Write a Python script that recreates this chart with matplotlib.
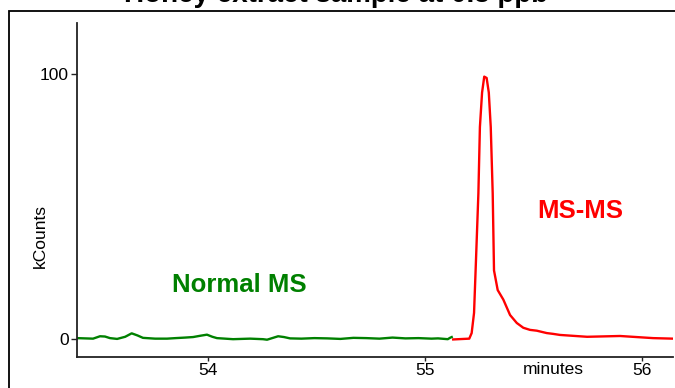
import matplotlib
matplotlib.use("Agg")
import matplotlib.pyplot as plt
from matplotlib.patches import Rectangle
import matplotlib.transforms as mtransforms

plt.rcParams['font.family'] = ['Liberation Sans', 'DejaVu Sans']

title_text = "Honey extract sample at 0.3 ppb"
x_ticks = [54, 55, 56]
x_tick_labels = ["54", "55", "56"]
y_ticks = [0, 100]
y_tick_labels = ["0", "100"]

# Normal MS trace (minutes, kCounts)
ms_time = [53.396, 53.433, 53.47, 53.502, 53.525, 53.548, 53.581, 53.618, 53.648,
           53.675, 53.700, 53.756, 53.811, 53.85, 53.894, 53.931, 53.965, 53.995,
           54.02, 54.041, 54.115, 54.194, 54.253, 54.272, 54.323, 54.35, 54.378,
           54.43, 54.49, 54.55, 54.61, 54.67, 54.73, 54.79, 54.85, 54.91, 54.97,
           55.03, 55.06, 55.09, 55.105, 55.115, 55.123]
ms_counts = [0.5, 0.4, 0.3, 1.2, 1.1, 0.5, 0.2, 1.0, 2.3,
             1.5, 0.6, 0.3, 0.3, 0.5, 0.7, 0.9, 1.4, 1.8,
             1.0, 0.5, 0.1, 0.3, 0.1, -0.1, 1.2, 0.9, 0.4,
             0.3, 0.5, 0.4, 0.2, 0.6, 0.5, 0.3, 0.7, 0.4, 0.5,
             0.3, 0.4, 0.2, 0.1, 0.6, 0.9]

# MS-MS trace
msms_time = [55.13, 55.204, 55.215, 55.226, 55.235, 55.246, 55.253, 55.263, 55.273,
             55.284, 55.294, 55.303, 55.312, 55.318, 55.335, 55.361, 55.392, 55.423,
             55.453, 55.484, 55.515, 55.561, 55.590, 55.622, 55.747, 55.899, 56.051, 56.143]
msms_counts = [0.0, 0.3, 2.4, 10, 30, 55, 80, 93, 99,
               98.5, 93, 80, 55, 26, 18.6, 15, 9.2, 6.2,
               4.4, 3.6, 3.3, 2.4, 2.1, 1.7, 1.0, 1.3, 0.5, 0.3]

fig = plt.figure(figsize=(6.75, 3.88), dpi=100)
ax = fig.add_axes([77/675, (388-356.7)/388, (673-77)/675, (356.7-23)/388])

ax.plot(ms_time, ms_counts, color='#008000', lw=1.7, solid_joinstyle='round')
ax.plot(msms_time, msms_counts, color='#ff0000', lw=1.7, solid_joinstyle='round')

ax.set_xlim(53.396, 56.143)
ax.set_ylim(-6.5, 119.2)

for s in ['top', 'right']:
    ax.spines[s].set_visible(False)
for s in ['left', 'bottom']:
    ax.spines[s].set_linewidth(1.3)
    ax.spines[s].set_color('#222222')

ax.set_xticks(x_ticks)
ax.set_xticklabels(x_tick_labels)
ax.set_yticks(y_ticks)
ax.set_yticklabels(y_tick_labels)
ax.tick_params(axis='x', direction='out', length=3, width=1, pad=1.5, labelsize=12.5, colors='#222222', labelcolor='black')
ax.tick_params(axis='y', direction='out', length=4.5, width=1, pad=1.5, labelsize=12.5, colors='#222222', labelcolor='black')

trans = mtransforms.blended_transform_factory(ax.transData, ax.transAxes)
ax.text(55.59, -0.016, "minutes", transform=trans, ha='center', va='top', fontsize=12.5)

trans_y = mtransforms.blended_transform_factory(fig.transFigure, ax.transData)
ax.text(40/675, 39, "kCounts", transform=trans_y, rotation=90, ha='center', va='center', fontsize=12.5)

ax.text(54.145, 20.5, "Normal MS", color='#008000', fontsize=18.5, fontweight='bold', ha='center', va='center')
ax.text(55.714, 48.5, "MS-MS", color='#ff0000', fontsize=18.5, fontweight='bold', ha='center', va='center')

fig.text(336/675, (388-2)/388, title_text, ha='center', va='baseline', fontsize=20, fontweight='bold')

rect = Rectangle((9/675, -0.05), 1.1, (388-11)/388 + 0.05, transform=fig.transFigure,
                 fill=False, edgecolor='black', lw=1.3)
fig.patches.append(rect)

fig.savefig("out.png", dpi=100)
